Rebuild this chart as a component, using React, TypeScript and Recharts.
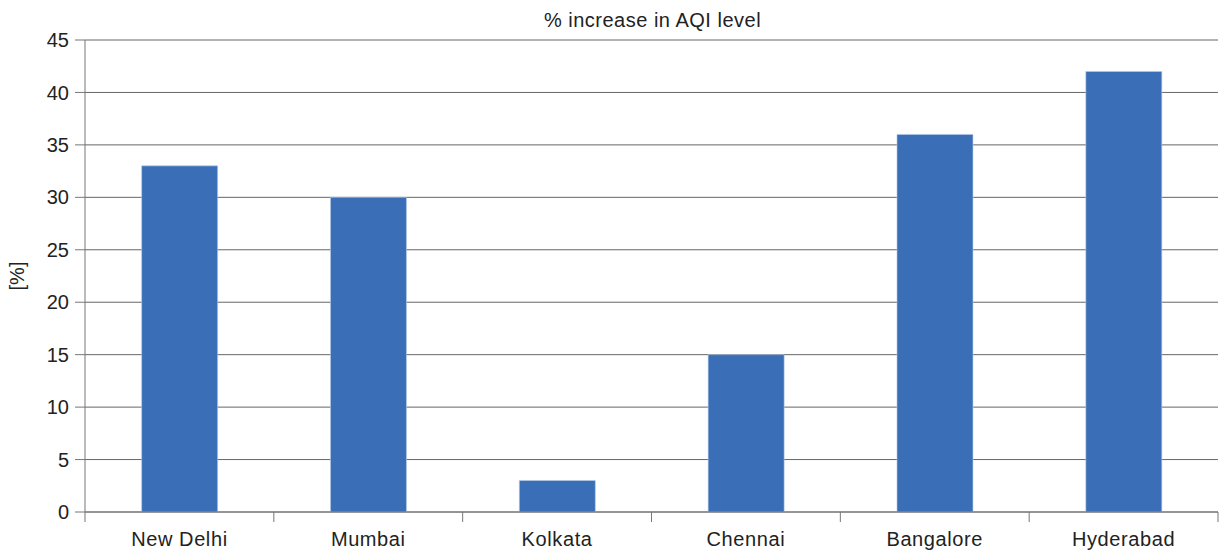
import React from 'react';
import { BarChart, Bar, XAxis, YAxis, CartesianGrid } from 'recharts';

const cities = ['New Delhi', 'Mumbai', 'Kolkata', 'Chennai', 'Bangalore', 'Hyderabad'];
const increase = [33, 30, 3, 15, 36, 42];
const yTicks = [0, 5, 10, 15, 20, 25, 30, 35, 40, 45];

const data = cities.map((name, i) => ({ name, value: increase[i] }));

const W = 1223;
const H = 551;
const margin = { top: 40, right: 5, bottom: 0, left: 0 };
const yAxisWidth = 85;
const band = (W - margin.left - margin.right - yAxisWidth) / cities.length;
const font = '"Liberation Sans", Arial, sans-serif';

// category label plus the boundary tick marks between categories
function CityTick(props: any) {
  const { x, y, payload, index } = props;
  const left = x - band / 2;
  const right = x + band / 2;
  return (
    <g>
      <line x1={left} x2={left} y1={y} y2={y + 10} stroke="#777" />
      {index === cities.length - 1 && <line x1={right} x2={right} y1={y} y2={y + 10} stroke="#777" />}
      <text
        x={x}
        y={y + 34}
        textAnchor="middle"
        fontSize={20}
        letterSpacing={0.6}
        fill="#222"
        fontFamily={font}
      >
        {payload.value}
      </text>
    </g>
  );
}

export default function App() {
  return (
    <div style={{ position: 'absolute', left: 0, top: 0, width: W, height: H, background: '#fff', fontFamily: font }}>
      <div
        style={{
          position: 'absolute',
          left: 0,
          width: W,
          top: 10,
          lineHeight: '20px',
          textAlign: 'center',
          paddingLeft: 82,
          boxSizing: 'border-box',
          fontSize: 20,
          letterSpacing: 0.5,
          color: '#222',
        }}
      >
        % increase in AQI level
      </div>
      <div
        style={{
          position: 'absolute',
          left: 17,
          top: 276,
          transform: 'translate(-50%, -50%) rotate(-90deg)',
          fontSize: 20,
          lineHeight: '20px',
          color: '#222',
          whiteSpace: 'nowrap',
        }}
      >
        [%]
      </div>
      <BarChart width={W} height={H} data={data} margin={margin} barCategoryGap="30%">
        <CartesianGrid vertical={false} stroke="#666" strokeWidth={1} />
        <XAxis
          dataKey="name"
          height={39}
          stroke="#777"
          tickLine={false}
          tickSize={0}
          tickMargin={0}
          interval={0}
          tick={<CityTick />}
        />
        <YAxis
          width={yAxisWidth}
          domain={[0, 45]}
          ticks={yTicks}
          interval={0}
          stroke="#777"
          tickSize={10}
          tickMargin={6}
          tick={{ fontSize: 20, fill: '#222', fontFamily: font }}
        />
        <Bar dataKey="value" fill="#3a6fb7" stroke="#b9cdea" strokeWidth={0.6} isAnimationActive={false} />
      </BarChart>
    </div>
  );
}
